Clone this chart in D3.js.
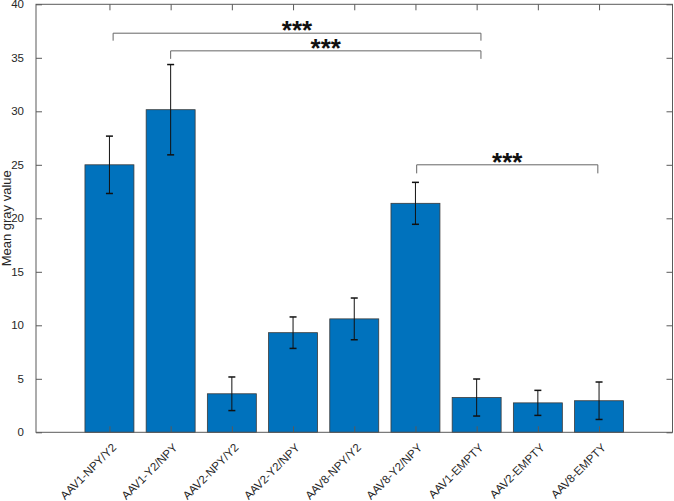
<!DOCTYPE html>
<html><head><meta charset="utf-8">
<script src="https://cdn.jsdelivr.net/npm/d3@7"></script>
<style>body{margin:0;background:#fff}svg{display:block}text{font-family:"Liberation Sans",Arial,Helvetica,sans-serif}</style>
</head><body><div id="chart"></div>
<script>
const categories = ["AAV1-NPY/Y2","AAV1-Y2/NPY","AAV2-NPY/Y2","AAV2-Y2/NPY","AAV8-NPY/Y2","AAV8-Y2/NPY","AAV1-EMPTY","AAV2-EMPTY","AAV8-EMPTY"];
const means = [25.0, 30.15, 3.6, 9.31, 10.6, 21.4, 3.25, 2.75, 2.95];
const errors = [2.68, 4.22, 1.57, 1.47, 1.95, 1.96, 1.73, 1.17, 1.75];
const yTicks = [0,5,10,15,20,25,30,35,40];
// significance brackets (positions 1-based along the category axis)
const sigFrom = [1.06, 2.0, 6.02];
const sigTo = [7.07, 7.07, 8.98];
const sigLevel = [37.3, 35.65, 25.0];
const sigLeg = [36.6, 34.9, 24.2];
const sigLabel = ["***","***","***"];

const W=674,H=501;
const L=36,R=672.5,T=4.3,B=432.3;
const svg=d3.select("#chart").append("svg").attr("width",W).attr("height",H);
const x=d3.scaleLinear().domain([-0.2,10.2]).range([L,R]);
const y=d3.scaleLinear().domain([0,40]).range([B,T]);
const bw=(x(1)-x(0))*0.8;
const axisCol="#5a5a5a";
const textCol="#262626";

// bars
svg.selectAll("rect.bar").data(means).join("rect")
  .attr("x",(d,i)=>x(i+1)-bw/2).attr("width",bw)
  .attr("y",d=>y(d)).attr("height",d=>y(0)-y(d))
  .attr("fill","#0072BD").attr("stroke","#3a3a3a").attr("stroke-width",0.8);

// error bars
const eg=svg.append("g").attr("stroke","#111").attr("stroke-width",1);
means.forEach((m,i)=>{
  const cx=x(i+1), cap=3.5;
  eg.append("line").attr("x1",cx).attr("x2",cx).attr("y1",y(m-errors[i])).attr("y2",y(m+errors[i]));
  eg.append("line").attr("x1",cx-cap).attr("x2",cx+cap).attr("y1",y(m-errors[i])).attr("y2",y(m-errors[i])).attr("stroke-width",1.5);
  eg.append("line").attr("x1",cx-cap).attr("x2",cx+cap).attr("y1",y(m+errors[i])).attr("y2",y(m+errors[i])).attr("stroke-width",1.5);
});

// axes box
svg.append("rect").attr("x",L).attr("y",T).attr("width",R-L).attr("height",B-T).attr("fill","none").attr("stroke",axisCol).attr("stroke-width",1);

// y ticks (left and right, inward)
const gy=svg.append("g").attr("transform",`translate(${L},0)`).call(d3.axisLeft(y).tickValues(yTicks).tickSizeInner(-6).tickSizeOuter(0).tickPadding(12));
gy.select(".domain").remove();
gy.selectAll("line").attr("stroke",axisCol);
gy.selectAll("text").attr("font-size",11.5).attr("fill",textCol);
const gyr=svg.append("g").attr("transform",`translate(${R},0)`).call(d3.axisRight(y).tickValues(yTicks).tickSizeInner(-6).tickSizeOuter(0).tickFormat(""));
gyr.select(".domain").remove();
gyr.selectAll("line").attr("stroke",axisCol);

// x ticks bottom and top inward
const xt=d3.range(1,categories.length+1);
const gx=svg.append("g").attr("transform",`translate(0,${B})`).call(d3.axisBottom(x).tickValues(xt).tickSizeInner(-6).tickSizeOuter(0).tickFormat((d)=>categories[d-1]));
gx.select(".domain").remove();
gx.selectAll("line").attr("stroke",axisCol);
gx.selectAll("text").attr("font-size",11.5).attr("fill",textCol)
  .attr("text-anchor","end").attr("dy",null).attr("y",0)
  .attr("transform","translate(7,16) rotate(-45)");
const gxt=svg.append("g").attr("transform",`translate(0,${T})`).call(d3.axisTop(x).tickValues(xt).tickSizeInner(-6).tickSizeOuter(0).tickFormat(""));
gxt.select(".domain").remove();
gxt.selectAll("line").attr("stroke",axisCol);

// y label
svg.append("text").attr("transform",`translate(11,${(T+B)/2}) rotate(-90)`)
  .attr("text-anchor","middle").attr("font-size",13).attr("fill",textCol).text("Mean gray value");

// significance brackets
const sg=svg.append("g");
sigFrom.forEach((f,i)=>{
  const x1=x(f),x2=x(sigTo[i]),yy=y(sigLevel[i]),yl=y(sigLeg[i]);
  sg.append("path").attr("d",`M${x1},${yl}V${yy}H${x2}V${yl}`).attr("fill","none").attr("stroke","#666").attr("stroke-width",1);
  sg.append("text").attr("x",(x1+x2)/2).attr("y",yy+6).attr("text-anchor","middle")
    .attr("font-size",26).attr("font-weight","bold").attr("fill","#111").text(sigLabel[i]);
});
</script></body></html>
